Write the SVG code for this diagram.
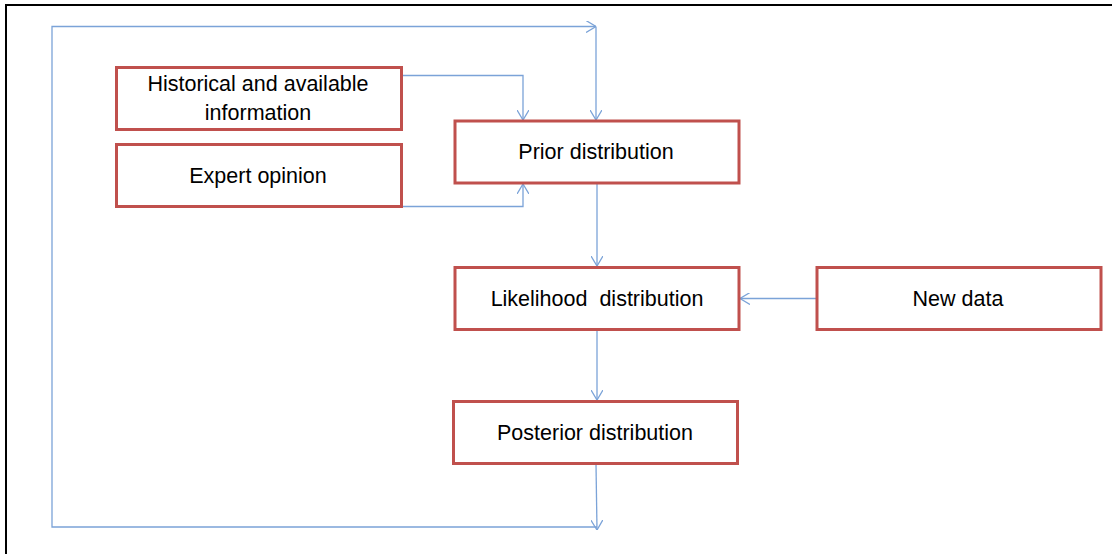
<svg xmlns="http://www.w3.org/2000/svg" width="1114" height="554" viewBox="0 0 1114 554">
<style>
.box{fill:#fff;stroke:#c0504d;stroke-width:3}
.lbl{font-family:"Liberation Sans",Arial,sans-serif;font-size:21.5px;fill:#000;text-anchor:middle;dominant-baseline:central;white-space:pre}
.con{fill:none;stroke:#7ba3d8;stroke-width:1.3}
</style>
<defs>
<marker id="ah" viewBox="0 0 10 12" refX="10" refY="6" markerWidth="10" markerHeight="12" markerUnits="userSpaceOnUse" orient="auto">
<path d="M0,0 L10,6 L0,12" fill="none" stroke="#7ba3d8" stroke-width="1.3"/>
</marker>
</defs>
<rect width="1114" height="554" fill="#fff"/>
<path d="M6,554 V5 H1112" fill="none" stroke="#000" stroke-width="2"/>
<g id="connectors">
<path class="con" d="M597,527 H52 V26.5 H596" marker-end="url(#ah)"/>
<path class="con" d="M596,26.5 V120" marker-end="url(#ah)"/>
<path class="con" d="M401,75.5 H523 V120" marker-end="url(#ah)"/>
<path class="con" d="M401,206.5 H523 V184" marker-end="url(#ah)"/>
<path class="con" d="M597,183 V266" marker-end="url(#ah)"/>
<path class="con" d="M816,298.5 H740" marker-end="url(#ah)"/>
<path class="con" d="M597,331 V400" marker-end="url(#ah)"/>
<path class="con" d="M596,464 L597,530" marker-end="url(#ah)"/>
</g>
<g id="historical">
<rect class="box" x="116.5" y="67.5" width="285" height="62"/>
<text class="lbl" x="258" y="84">Historical and available</text>
<text class="lbl" x="258" y="113">information</text>
</g>
<g id="expert">
<rect class="box" x="116.5" y="144.5" width="285" height="62"/>
<text class="lbl" x="258" y="176">Expert opinion</text>
</g>
<g id="prior">
<rect class="box" x="455" y="121" width="284" height="62"/>
<text class="lbl" x="596" y="152">Prior distribution</text>
</g>
<g id="likelihood">
<rect class="box" x="455" y="267.5" width="284" height="62"/>
<text class="lbl" x="597" y="299">Likelihood  distribution</text>
</g>
<g id="newdata">
<rect class="box" x="817" y="267.5" width="284" height="62"/>
<text class="lbl" x="958" y="299">New data</text>
</g>
<g id="posterior">
<rect class="box" x="453.5" y="401.5" width="284" height="62"/>
<text class="lbl" x="595" y="433">Posterior distribution</text>
</g>
</svg>
